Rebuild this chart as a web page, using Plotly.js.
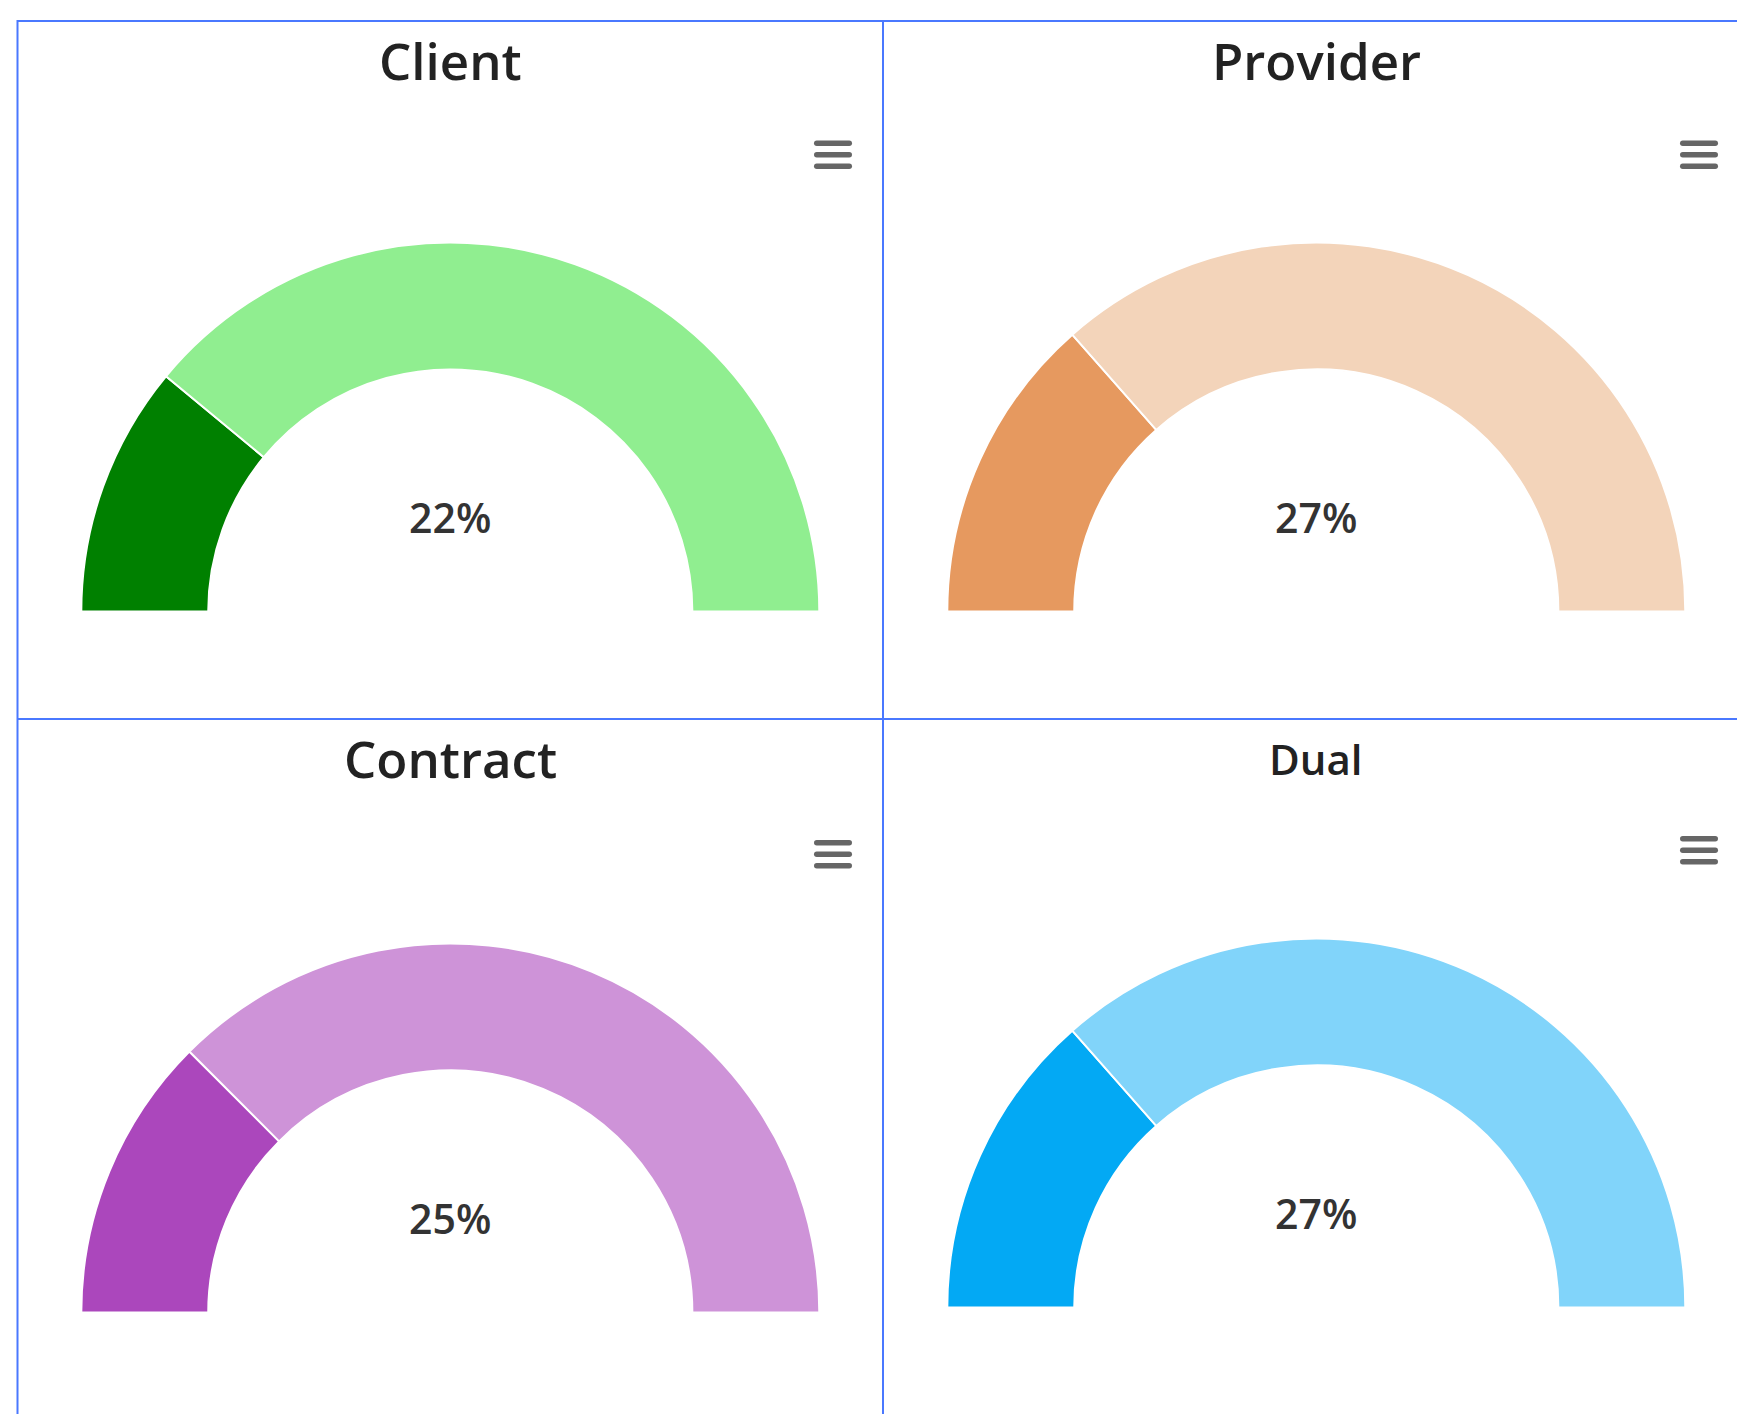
<!DOCTYPE html>
<html><head><meta charset="utf-8">
<script src="https://cdn.plot.ly/plotly-3.0.1.min.js"></script>
<style>
html,body{margin:0;padding:0;background:#fff;overflow:hidden}
#wrap{width:1737px;height:1414px;overflow:hidden;position:relative}
</style></head><body><div id="wrap"><div id="chart"></div></div>
<script>
// ---- data ----
const titles = ['Client', 'Provider', 'Contract', 'Dual'];
const percents = [22, 27, 25, 27];
const darkColors = ['#008000', '#E6995F', '#AB47BC', '#03A9F4'];
const lightColors = ['#90EE90', '#F3D4BA', '#CE93D8', '#81D4FA'];

// ---- layout geometry (pixels) ----
const W = 1737, H = 1800;
const centers = [[450.3, 611.5], [1316.3, 611.5], [450.3, 1312.5], [1316.3, 1307.5]];
const R = 369;
const holeFrac = 0.656;
const titleY = [60, 60, 758, 759];
const titleSize = [51, 51, 51, 42];
const iconPos = [[814, 140.5], [1680, 140.5], [814, 840], [1680, 836]];

const px = x => x / W;
const py = y => 1 - y / H;

const traces = [];
const annotations = [];
const shapes = [];

function roundBar(x0, y0, w, h) {
  const r = h / 2;
  const X = v => px(v).toFixed(6), Y = v => py(v).toFixed(6);
  return 'M' + X(x0 + r) + ',' + Y(y0) +
    ' L' + X(x0 + w - r) + ',' + Y(y0) +
    ' Q' + X(x0 + w) + ',' + Y(y0) + ' ' + X(x0 + w) + ',' + Y(y0 + r) +
    ' Q' + X(x0 + w) + ',' + Y(y0 + h) + ' ' + X(x0 + w - r) + ',' + Y(y0 + h) +
    ' L' + X(x0 + r) + ',' + Y(y0 + h) +
    ' Q' + X(x0) + ',' + Y(y0 + h) + ' ' + X(x0) + ',' + Y(y0 + r) +
    ' Q' + X(x0) + ',' + Y(y0) + ' ' + X(x0 + r) + ',' + Y(y0) + ' Z';
}

titles.forEach((t, i) => {
  const [cx, cy] = centers[i];
  const p = percents[i];
  traces.push({
    type: 'pie',
    values: [p, 100 - p, 100],
    labels: [t + ' value', t + ' rest', 'hidden'],
    marker: {
      colors: [darkColors[i], lightColors[i], 'rgba(0,0,0,0)'],
      line: {color: ['#ffffff', '#ffffff', 'rgba(0,0,0,0)'], width: [2, 2, 0]}
    },
    hole: holeFrac,
    sort: false,
    direction: 'clockwise',
    rotation: -90,
    textinfo: 'none',
    hoverinfo: 'skip',
    showlegend: false,
    domain: {x: [px(cx - R), px(cx + R)], y: [py(cy + R), py(cy - R)]}
  });
  annotations.push({
    text: t, xref: 'paper', yref: 'paper', x: px(cx), y: py(titleY[i]),
    xanchor: 'center', yanchor: 'middle', showarrow: false,
    font: {family: 'Open Sans', size: titleSize[i], color: '#222222', weight: 600}
  });
  annotations.push({
    text: p + '%', xref: 'paper', yref: 'paper', x: px(cx), y: py(cy - 94.5),
    xanchor: 'center', yanchor: 'middle', showarrow: false,
    font: {family: 'Open Sans', size: 41, color: '#333333', weight: 600}
  });
  const [ix, iy] = iconPos[i];
  [0, 11.5, 23].forEach(off => {
    shapes.push({
      type: 'path', xref: 'paper', yref: 'paper',
      path: roundBar(ix, iy + off, 38, 5.5),
      fillcolor: '#666666', line: {width: 0}
    });
  });
});

const borderColor = '#4a78ff';
[[17.5, 21, W + 5, 21], [17.5, 719, W + 5, 719], [17.5, 20, 17.5, H], [883, 20, 883, H]].forEach(l => {
  shapes.push({
    type: 'line', xref: 'paper', yref: 'paper',
    x0: px(l[0]), y0: py(l[1]), x1: px(l[2]), y1: py(l[3]),
    line: {color: borderColor, width: 2}
  });
});

Plotly.newPlot('chart', traces, {
  width: W, height: H,
  margin: {l: 0, r: 0, t: 0, b: 0},
  paper_bgcolor: '#ffffff', plot_bgcolor: '#ffffff',
  showlegend: false,
  annotations: annotations,
  shapes: shapes
}, {displayModeBar: false, staticPlot: true});
</script></body></html>
